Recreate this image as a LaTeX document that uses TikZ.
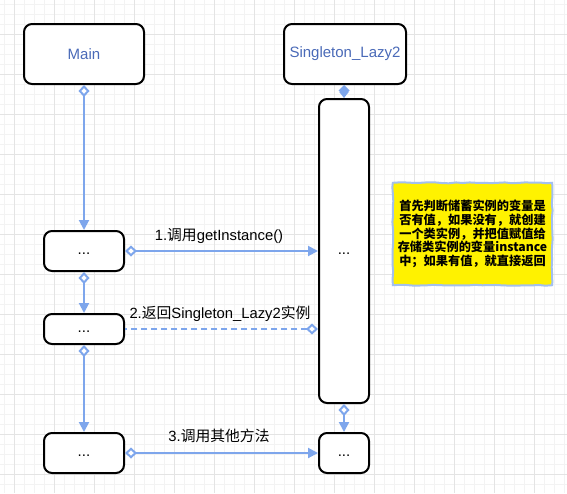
\documentclass[tikz,border=0pt]{standalone}
\usepackage{fontspec}
\setmainfont{Liberation Sans}
\newfontfamily\cjk{Noto Sans CJK SC}
\usetikzlibrary{arrows.meta,decorations.pathmorphing}
\definecolor{lineblue}{HTML}{7EA6EC}
\definecolor{noteblue}{HTML}{A3C0EE}
\definecolor{textblue}{HTML}{4A6AB8}
\definecolor{gridminor}{HTML}{F3F3F3}
\definecolor{gridmajor}{HTML}{E4E4E4}
\begin{document}
\begin{tikzpicture}[x=1pt,y=-1pt,
  box/.style={draw=black, line width=2pt, rounded corners=8pt, fill=white, inner sep=0pt,
    font=\fontsize{15}{17}\selectfont},
  dotbox/.style={box, text height=7pt, text depth=0pt},
  conn/.style={draw=lineblue, line width=2pt,
    {Diamond[fill=white,length=12pt,width=11pt]}-{Triangle[length=10pt,width=10pt]}},
  connfill/.style={draw=lineblue, line width=2pt,
    {Diamond[length=11pt,width=11pt]}-{Triangle[length=6pt,width=9pt]}},
  dconn/.style={draw=lineblue, line width=2pt, dash pattern=on 6pt off 4pt,
    {Diamond[fill=white,length=12pt,width=11pt]}-},
  lbl/.style={font=\fontsize{14.8}{17}\selectfont, text=black, inner sep=0pt},
  notebox/.style={fill=yellow, minimum width=159pt, minimum height=102pt, inner sep=0pt,
    align=center, font=\cjk\bfseries\fontsize{12.2}{13.8}\selectfont}
]
\path[use as bounding box] (0,0) rectangle (567,493);
\fill[white] (0,0) rectangle (567,493);
\foreach \x in {4,14,...,564} \draw[gridminor, line width=0.6pt] (\x,0) -- (\x,493);
\foreach \y in {4,14,...,493} \draw[gridminor, line width=0.6pt] (0,\y) -- (567,\y);
\foreach \x in {14,54,...,564} \draw[gridmajor, line width=0.7pt] (\x,0) -- (\x,493);
\foreach \y in {34,74,...,493} \draw[gridmajor, line width=0.7pt] (0,\y) -- (567,\y);

\node[box, minimum width=120pt, minimum height=60pt, text=textblue] (main) at (84,54) {Main};
\node[box, minimum width=122pt, minimum height=60pt, text=textblue] (single) at (345,54) {Singleton\_Lazy2};
\node[dotbox, minimum width=50pt, minimum height=304pt] (life) at (344,251) {...};
\node[dotbox, minimum width=80pt, minimum height=40pt] (b1) at (84,251) {...};
\node[dotbox, minimum width=80pt, minimum height=30pt] (b2) at (84,329) {...};
\node[dotbox, minimum width=80pt, minimum height=40pt] (b3) at (84,453) {...};
\node[dotbox, minimum width=50pt, minimum height=40pt] (b4) at (344,453) {...};

\draw[conn] (main.south) -- (b1.north);
\draw[connfill] (single.south -| life.north) -- (life.north);
\draw[conn] (b1.east) -- (b1.east -| life.west);
\draw[conn] (b1.south) -- (b2.north);
\draw[dconn] (b2.east -| life.west) -- (b2.east);
\draw[conn] (b2.south) -- (b3.north);
\draw[conn] (life.south) -- (b4.north);
\draw[conn] (b3.east) -- (b4.west);

\node[lbl] (l1) at (219,236) {1.{\cjk 调用}getInstance()};
\node[lbl] (l2) at (220,314) {2.{\cjk 返回}Singleton\_Lazy2{\cjk 实例}};
\node[lbl] (l3) at (219,436) {3.{\cjk 调用其他方法}};

\node[notebox] (note) at (472.5,234) {首先判断储蓄实例的变量是\\否有值，如果没有，就创建\\一个类实例，并把值赋值给\\存储类实例的变量instance\\中；如果有值，就直接返回};
\draw[noteblue, line width=2pt, decorate, decoration={random steps, segment length=7pt, amplitude=0.5pt}]
  (note.north west) -- (note.north east) -- (note.south east) -- (note.south west) -- cycle;
\end{tikzpicture}
\end{document}
